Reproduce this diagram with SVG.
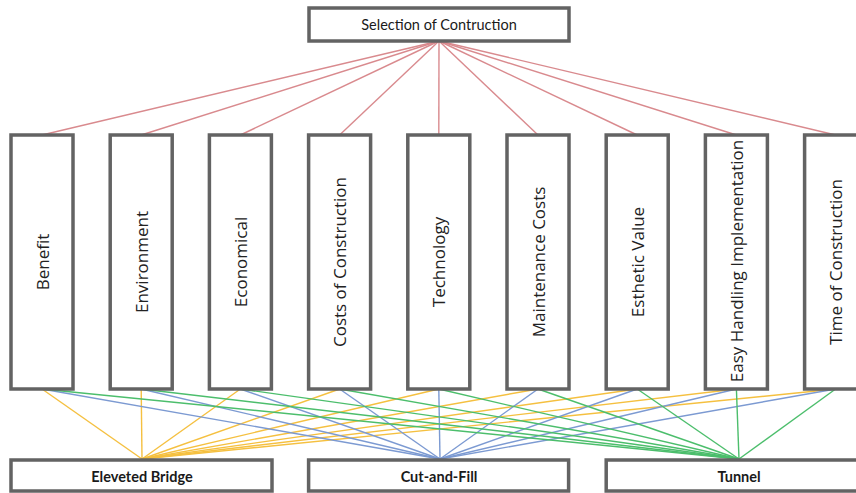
<svg xmlns="http://www.w3.org/2000/svg" width="856" height="493" viewBox="0 0 856 493">
<style>
.box{fill:#fff;stroke:#636363;stroke-width:3.5}
.lbl{font-family:"Open Sans","DejaVu Sans",sans-serif;font-size:17px;fill:#222;text-anchor:middle;dominant-baseline:central}
.hdr{font-family:Lato,"Liberation Sans",sans-serif;font-size:14.5px;fill:#1a1a1a;text-anchor:middle;dominant-baseline:central}
.b{font-weight:bold}
.r{stroke:#D98A8E;stroke-width:1.4;fill:none}
.y{stroke:#F5C040;stroke-width:1.4;fill:none}
.bl{stroke:#7C9AD2;stroke-width:1.4;fill:none}
.g{stroke:#4CBE6C;stroke-width:1.4;fill:none}
</style>
<rect width="856" height="493" fill="#fff"/>
<g id="connectors">
<g class="r">
<line x1="439" y1="41" x2="42" y2="135"/>
<line x1="439" y1="41" x2="141.2" y2="135"/>
<line x1="439" y1="41" x2="240.4" y2="135"/>
<line x1="439" y1="41" x2="339.6" y2="135"/>
<line x1="439" y1="41" x2="438.8" y2="135"/>
<line x1="439" y1="41" x2="538" y2="135"/>
<line x1="439" y1="41" x2="637.2" y2="135"/>
<line x1="439" y1="41" x2="736.4" y2="135"/>
<line x1="439" y1="41" x2="835.6" y2="135"/>
</g>
<g class="y">
<line x1="42" y1="389" x2="142" y2="459"/>
<line x1="141.2" y1="389" x2="142" y2="459"/>
<line x1="240.4" y1="389" x2="142" y2="459"/>
<line x1="339.6" y1="389" x2="142" y2="459"/>
<line x1="438.8" y1="389" x2="142" y2="459"/>
<line x1="538" y1="389" x2="142" y2="459"/>
<line x1="637.2" y1="389" x2="142" y2="459"/>
<line x1="736.4" y1="389" x2="142" y2="459"/>
<line x1="835.6" y1="389" x2="142" y2="459"/>
</g>
<g class="bl">
<line x1="42" y1="389" x2="440" y2="459"/>
<line x1="141.2" y1="389" x2="440" y2="459"/>
<line x1="240.4" y1="389" x2="440" y2="459"/>
<line x1="339.6" y1="389" x2="440" y2="459"/>
<line x1="438.8" y1="389" x2="440" y2="459"/>
<line x1="538" y1="389" x2="440" y2="459"/>
<line x1="637.2" y1="389" x2="440" y2="459"/>
<line x1="736.4" y1="389" x2="440" y2="459"/>
<line x1="835.6" y1="389" x2="440" y2="459"/>
</g>
<g class="g">
<line x1="42" y1="389" x2="739" y2="459"/>
<line x1="141.2" y1="389" x2="739" y2="459"/>
<line x1="240.4" y1="389" x2="739" y2="459"/>
<line x1="339.6" y1="389" x2="739" y2="459"/>
<line x1="438.8" y1="389" x2="739" y2="459"/>
<line x1="538" y1="389" x2="739" y2="459"/>
<line x1="637.2" y1="389" x2="739" y2="459"/>
<line x1="736.4" y1="389" x2="739" y2="459"/>
<line x1="835.6" y1="389" x2="739" y2="459"/>
</g>
</g>
<g id="selection"><rect class="box" x="309" y="8" width="260" height="33"/><text class="hdr" x="439" y="24.5">Selection of Contruction</text></g>
<g id="benefit"><rect class="box" x="11" y="135" width="62" height="254"/><text class="lbl" transform="translate(42,262) rotate(-90)">Benefit</text></g>
<g id="environment"><rect class="box" x="110.2" y="135" width="62" height="254"/><text class="lbl" transform="translate(141.2,262) rotate(-90)">Environment</text></g>
<g id="economical"><rect class="box" x="209.4" y="135" width="62" height="254"/><text class="lbl" transform="translate(240.4,262) rotate(-90)">Economical</text></g>
<g id="costs"><rect class="box" x="308.6" y="135" width="62" height="254"/><text class="lbl" transform="translate(339.6,262) rotate(-90)">Costs of Construction</text></g>
<g id="technology"><rect class="box" x="407.8" y="135" width="62" height="254"/><text class="lbl" transform="translate(438.8,262) rotate(-90)">Technology</text></g>
<g id="maintenance"><rect class="box" x="507" y="135" width="62" height="254"/><text class="lbl" transform="translate(538,262) rotate(-90)">Maintenance Costs</text></g>
<g id="esthetic"><rect class="box" x="606.2" y="135" width="62" height="254"/><text class="lbl" transform="translate(637.2,262) rotate(-90)">Esthetic Value</text></g>
<g id="easy"><rect class="box" x="705.4" y="135" width="62" height="254"/><text class="lbl" transform="translate(736.4,261) rotate(-90)">Easy Handling Implementation</text></g>
<g id="time"><rect class="box" x="804.6" y="135" width="62" height="254"/><text class="lbl" transform="translate(835.6,262) rotate(-90)">Time of Construction</text></g>
<g id="bridge"><rect class="box" x="11" y="460" width="261" height="31"/><text class="hdr b" x="142" y="476">Eleveted Bridge</text></g>
<g id="cutfill"><rect class="box" x="308.6" y="460" width="260" height="31"/><text class="hdr b" x="439" y="476">Cut-and-Fill</text></g>
<g id="tunnel"><rect class="box" x="606.2" y="460" width="262" height="31"/><text class="hdr b" x="739" y="476">Tunnel</text></g>
</svg>
